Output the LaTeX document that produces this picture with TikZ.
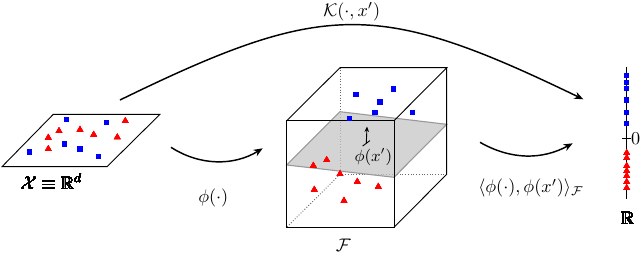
\documentclass[tikz,border=0pt]{standalone}
\usepackage{amsmath, amssymb}
\usepackage{tikz}
\usetikzlibrary{arrows.meta}

\tikzset{
  mapping/.style={-{Stealth[length=5pt,width=4pt]}, line width=0.8pt},
  edge/.style={line width=0.5pt},
  hidden/.style={densely dotted, line width=0.5pt, gray!80!black},
}
\newcommand{\bluesq}[2]{\fill[blue] (#1,#2) +(-1.4pt,-1.4pt) rectangle +(1.4pt,1.4pt);}
\newcommand{\redtri}[2]{\fill[red] (#1,#2) +(90:2.1pt) -- +(210:2.1pt) -- +(330:2.1pt) -- cycle;}

\begin{document}
\begin{tikzpicture}[x=0.55pt, y=-0.55pt, >=Stealth]
  \useasboundingbox (0,0) rectangle (640,254);

  % Input space
  \draw[edge] (2,166.7) -- (107,166.7) -- (160,114.3) -- (53.3,114.3) -- cycle;
  \foreach \x/\y in {66.7/119.3, 106.7/122.3, 64.3/144, 80/149, 29.7/152, 98.7/156.7}
    \bluesq{\x}{\y}
  \foreach \x/\y in {125.3/121, 59/131, 80/129.7, 93.7/134.7, 48.3/137.7, 117.3/137.3, 48.3/149}
    \redtri{\x}{\y}
  \node (xlabel) at (51.7,181.7) {$\mathcal{X}\equiv\mathbb{R}^d$};

  % Feature space (cube)
  \draw[hidden] (340,67.7) -- (340,174.3) -- (446.7,174.3);
  \draw[hidden] (340,174.3) -- (286.7,227.3);
  \draw[fill=gray!45, fill opacity=0.75, draw=gray!80, line width=0.6pt]
    (286.7,165) -- (394,177.3) -- (446.7,124.3) -- (340,111.7) -- cycle;
  \draw[edge] (286.7,120.7) rectangle (394,227.3);
  \draw[edge] (286.7,120.7) -- (340,67.7) -- (446.7,67.7) -- (394,120.7);
  \draw[edge] (446.7,67.7) -- (446.7,174.3) -- (394,227.3);
  \foreach \x/\y in {356/94.3, 393.3/89, 380/102, 375/112.7, 412.3/112.7, 349.3/118.3}
    \bluesq{\x}{\y}
  \foreach \x/\y in {326.7/160, 313.3/165.7, 340/174, 357.3/181.7, 378.3/186.7, 314.3/189.7, 344/200.7}
    \redtri{\x}{\y}
  \coordinate (phix) at (366.3,143.3);
  \coordinate (phixtop) at (367,126.5);
  \draw[-{Stealth[length=3pt,width=2.5pt]}, line width=0.5pt] (phix) -- (phixtop);
  \draw[line width=0.5pt] (phix) +(-2pt,-1.5pt) -- +(2pt,1.5pt);
  \node[font=\small] (phixlabel) at (373.3,157) {$\phi(x')$};
  \node (flabel) at (343.3,245) {$\mathcal{F}$};

  % Real line
  \coordinate (rtop) at (626.7,66.7);
  \coordinate (rbot) at (626.7,199);
  \draw[edge] (rtop) -- (rbot);
  \draw[edge] (622,138.3) -- (631,138.3);
  \node[anchor=west, inner sep=0pt] (zero) at (630.8,138.3) {$0$};
  \foreach \y in {75.7, 82.3, 88.3, 100, 112.3, 123.3}
    \bluesq{626.7}{\y}
  \foreach \y in {153, 158, 166, 171, 176, 182, 188}
    \redtri{626.7}{\y}
  \node (rlabel) at (627.7,218) {$\mathbb{R}$};

  % Maps
  \coordinate (planeR) at (171,147.3);
  \coordinate (cubeL) at (262.7,148.3);
  \coordinate (cubeR) at (480,142.3);
  \coordinate (lineL) at (572.7,143.3);
  \coordinate (planeTop) at (120,100);
  \coordinate (lineTop) at (583.3,99.3);
  \draw[mapping] (planeR) .. controls (200,166) and (234,166) .. (cubeL);
  \node (philabel) at (213.3,198.3) {$\phi(\cdot)$};
  \draw[mapping] (cubeR) .. controls (511,160) and (542,160) .. (lineL);
  \node (iplabel) at (531,188.3) {$\langle\phi(\cdot),\phi(x')\rangle_{\mathcal{F}}$};
  \draw[mapping] (planeTop) .. controls (325,0) and (378,0) .. (lineTop);
  \node[inner sep=0pt] (klabel) at (351.7,12) {$\mathcal{K}(\cdot,x')$};
\end{tikzpicture}
\end{document}
